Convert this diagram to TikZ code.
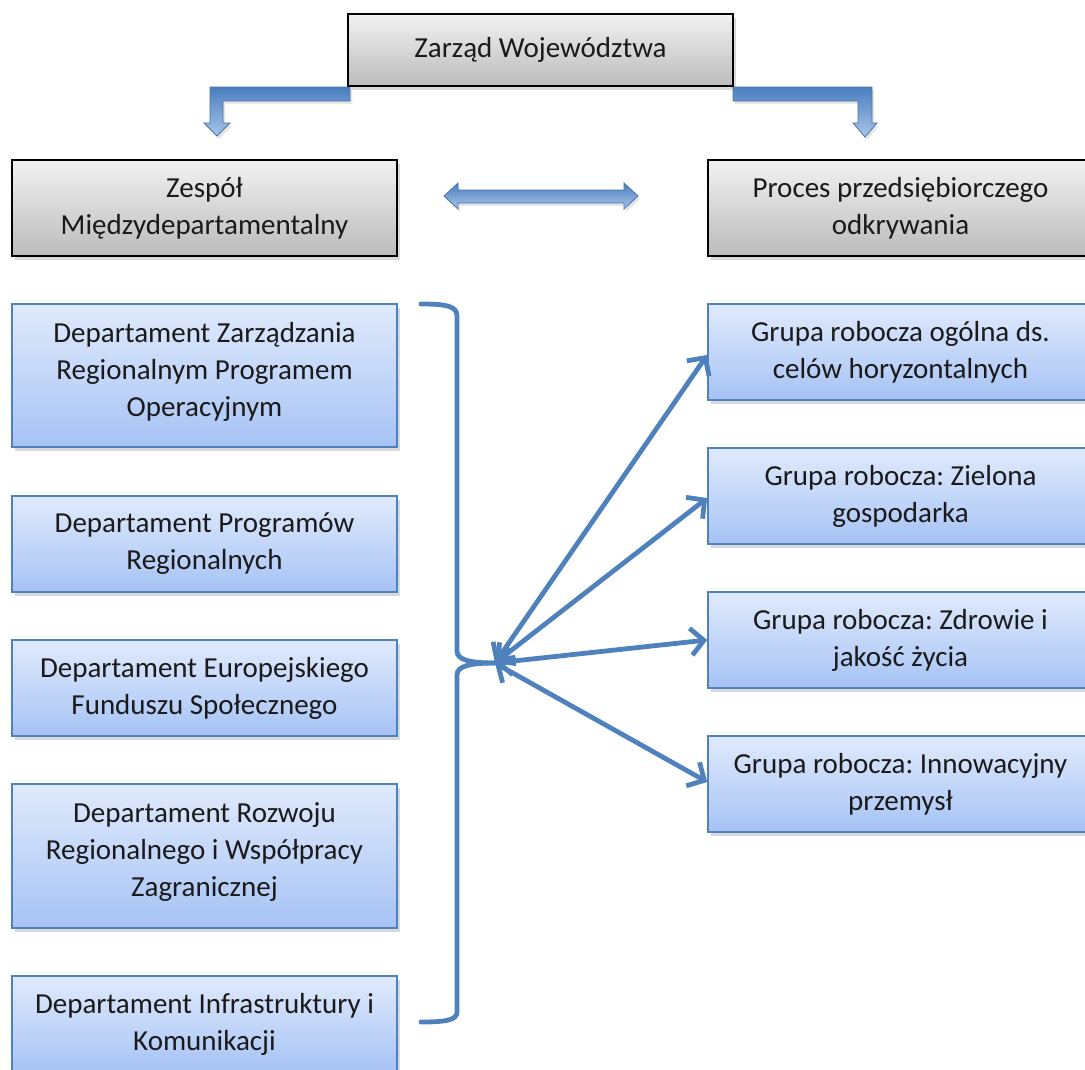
\documentclass[tikz,border=0pt]{standalone}
\usepackage{fontspec}
\setmainfont{Carlito}
\frenchspacing
\usetikzlibrary{arrows.meta,shadows}
\definecolor{lineblue}{HTML}{4F81BD}
\definecolor{boxtop}{HTML}{E0EAFC}
\definecolor{boxbot}{HTML}{A6C3F5}
\definecolor{graytop}{HTML}{F2F2F2}
\definecolor{graybot}{HTML}{BBBBBB}
\definecolor{arrtop}{HTML}{4A7EBF}
\definecolor{arrbot}{HTML}{A9C4EA}
\definecolor{txt}{HTML}{1A1A1A}
\tikzset{
  boxtext/.style={align=center, text=txt, font=\fontsize{29}{37}\selectfont, inner sep=0pt},
  basebox/.style={rectangle, minimum width=385pt, boxtext,
    drop shadow={shadow xshift=3pt, shadow yshift=-4pt, opacity=0.3}},
  graybox/.style={basebox, draw=black, line width=1.6pt, top color=graytop, bottom color=graybot},
  bluebox/.style={basebox, draw=lineblue, line width=1.6pt, top color=boxtop, bottom color=boxbot},
  blockarrow/.style={draw=lineblue!90!black, line width=0.8pt, top color=arrtop, bottom color=arrbot,
    drop shadow={shadow xshift=2pt, shadow yshift=-3pt, opacity=0.2}},
  conn/.style={draw=lineblue, line width=4.8pt, line cap=round,
    {Straight Barb[length=13pt,width=27pt,line width=4.8pt]}-{Straight Barb[length=13pt,width=27pt,line width=4.8pt]}},
  bracepath/.style={draw=lineblue, line width=4.8pt, line cap=round}
}
\begin{document}
\begin{tikzpicture}[x=1pt,y=-1pt]
\useasboundingbox (0,0) rectangle (1085,1069);

% block arrows
\path[blockarrow] (350,87) -- (210,87) -- (210,123) -- (204,123) -- (217,136) -- (230,123) -- (223,123) -- (223,101) -- (350,101) -- cycle;
\path[blockarrow] (733,87) -- (872,87) -- (872,123) -- (877,123) -- (865,137) -- (853,123) -- (858,123) -- (858,101) -- (733,101) -- cycle;
\path[blockarrow] (444,196) -- (458,183) -- (458,190) -- (624,190) -- (624,183) -- (638,196) -- (624,209) -- (624,203) -- (458,203) -- (458,209) -- cycle;

% top boxes
\node[graybox, minimum height=72pt] (zw) at (540.5,50) {Zarząd Województwa};
\node[graybox, minimum height=96pt] (zm) at (204.5,208) {Zespół\\Międzydepartamentalny};
\node[graybox, minimum height=96pt] (pp) at (900.5,208) {Proces przedsiębiorczego\\odkrywania};

% left departments
\node[bluebox, minimum height=143pt] (d1) at (204.5,375.5) {};
\node[boxtext] (d1t) at ([yshift=4pt]d1.center) {Departament Zarządzania\\Regionalnym Programem\\Operacyjnym};
\node[bluebox, minimum height=96pt] (d2) at (204.5,544) {Departament Programów\\Regionalnych};
\node[bluebox, minimum height=96pt] (d3) at (204.5,688) {Departament Europejskiego\\Funduszu Społecznego};
\node[bluebox, minimum height=144pt] (d4) at (204.5,856) {};
\node[boxtext] (d4t) at ([yshift=4pt]d4.center) {Departament Rozwoju\\Regionalnego i Współpracy\\Zagranicznej};
\node[bluebox, minimum height=96pt] (d5) at (204.5,1024) {Departament Infrastruktury i\\Komunikacji};

% right groups
\node[bluebox, minimum height=96pt] (g1) at (900.5,352) {Grupa robocza ogólna ds.\\celów horyzontalnych};
\node[bluebox, minimum height=96pt] (g2) at (900.5,496) {Grupa robocza: Zielona\\gospodarka};
\node[bluebox, minimum height=96pt] (g3) at (900.5,640) {Grupa robocza: Zdrowie i\\jakość życia};
\node[bluebox, minimum height=96pt] (g4) at (900.5,784) {Grupa robocza: Innowacyjny\\przemysł};

% brace
\coordinate (hub) at (495,663);
\path[bracepath] (421,304) .. controls (446,304) and (457,306) .. (457,316) -- (457,651) .. controls (457,660) and (470,663) .. (hub);
\path[bracepath] (hub) .. controls (470,663) and (457,666) .. (457,675) -- (457,1012) .. controls (457,1020) and (446,1022) .. (421,1022);

% connectors
\draw[conn] (hub) -- ([yshift=-3pt]g1.west);
\draw[conn] (hub) -- ([yshift=-2pt]g2.west);
\draw[conn] (hub) -- (g3.west);
\draw[conn] (hub) -- ([yshift=2pt]g4.west);
\end{tikzpicture}
\end{document}
